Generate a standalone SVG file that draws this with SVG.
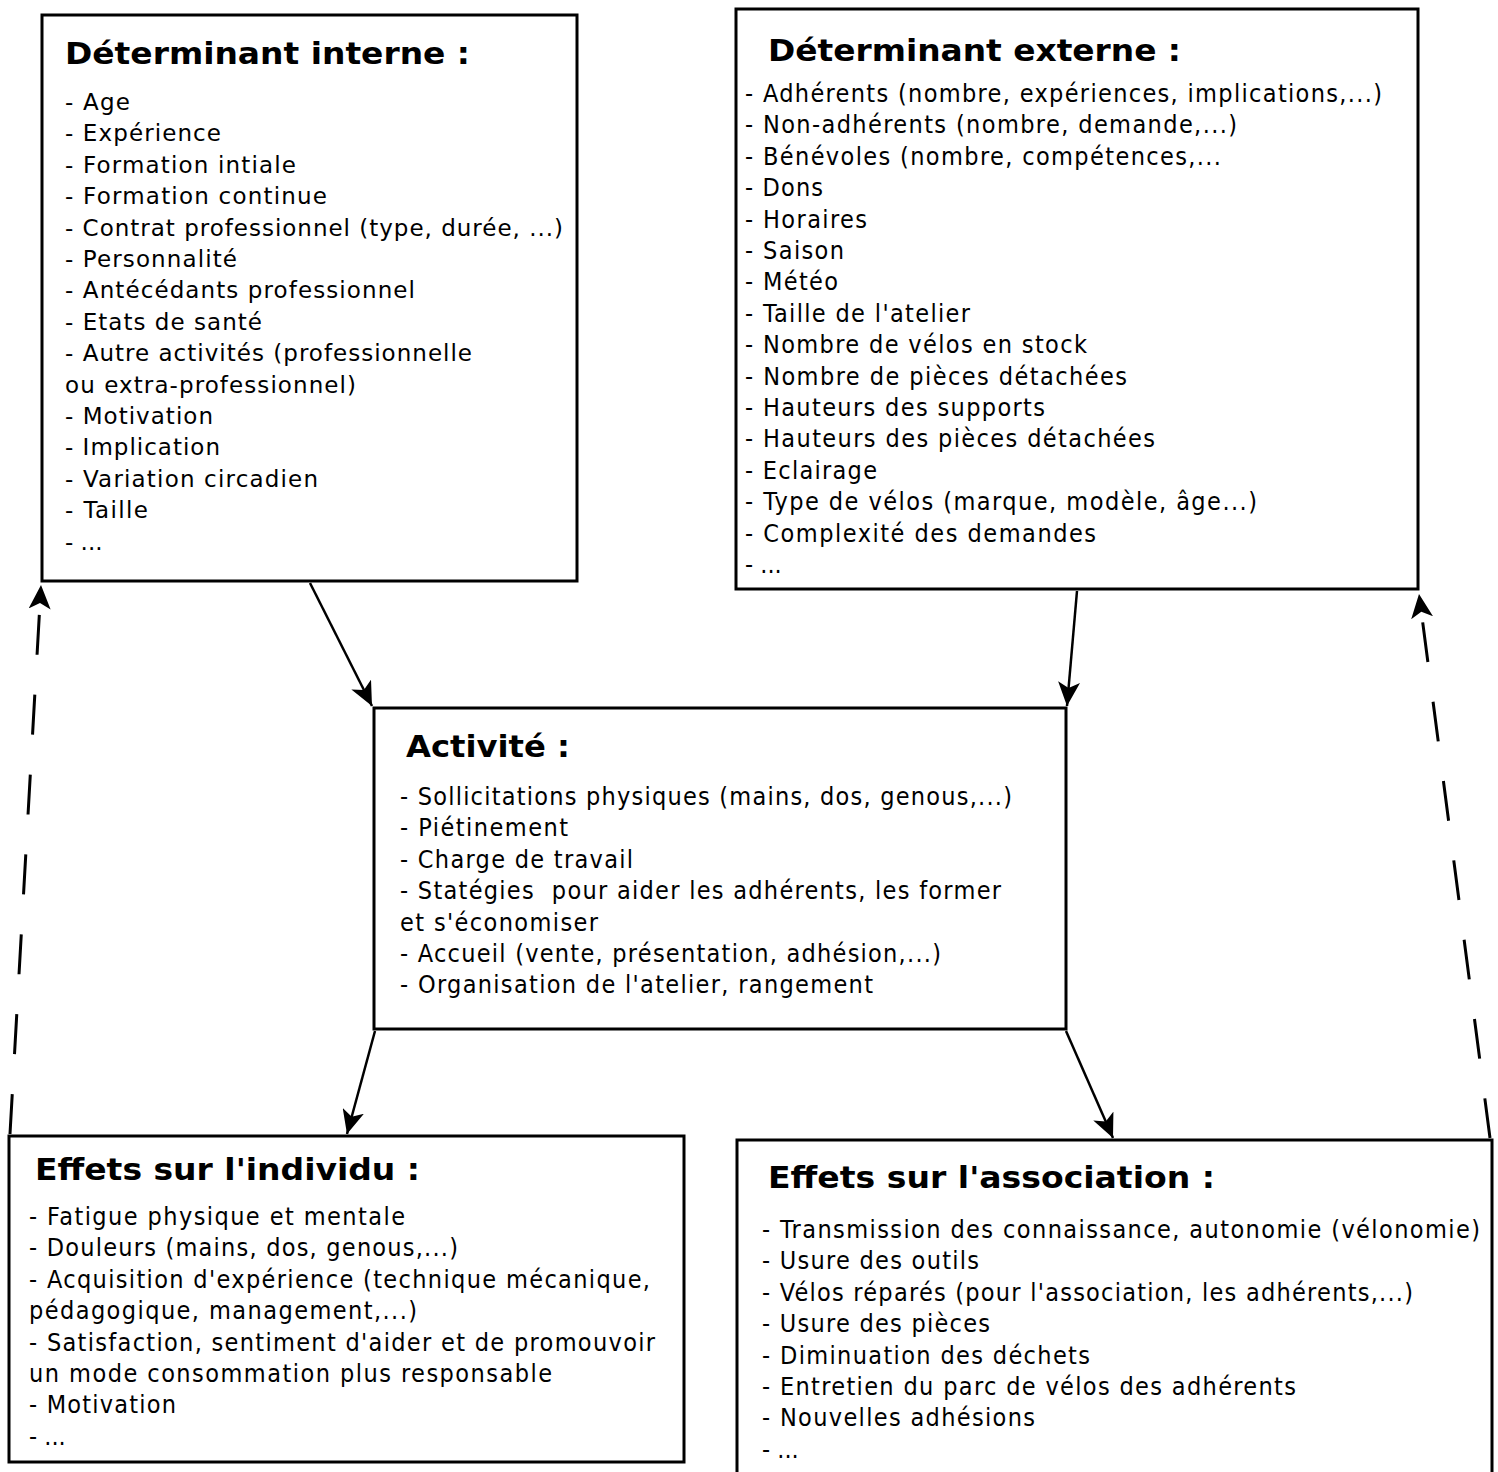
<svg xmlns="http://www.w3.org/2000/svg" width="1498" height="1472" viewBox="0 0 1498 1472">
<style>
.box{fill:#fff;stroke:#000;stroke-width:3}
.t{font-family:"DejaVu Sans","Verdana",sans-serif;font-weight:bold;font-size:30px;fill:#000}
.b{font-family:"DejaVu Sans Condensed","DejaVu Sans",sans-serif;font-size:25px;fill:#000}
.r{font-family:"DejaVu Sans","Verdana",sans-serif;font-size:23px;fill:#000}
.c{fill:none;stroke:#000;stroke-width:2.5}
.d{fill:none;stroke:#000;stroke-width:3;stroke-dasharray:40 40}
</style>
<defs>
<marker id="ah" markerUnits="userSpaceOnUse" markerWidth="26" markerHeight="22" refX="24" refY="11" orient="auto">
<path d="M0,0 L24,11 L0,22 L6,11 Z" fill="#000"/>
</marker>
</defs>
<rect width="1498" height="1472" fill="#fff"/>
<g id="connectors">
<line class="c" x1="310" y1="583" x2="372" y2="706" marker-end="url(#ah)"/>
<line class="c" x1="1077" y1="591" x2="1067" y2="706" marker-end="url(#ah)"/>
<line class="c" x1="375" y1="1031" x2="347" y2="1134" marker-end="url(#ah)"/>
<line class="c" x1="1066" y1="1031" x2="1113" y2="1138" marker-end="url(#ah)"/>
<line class="d" x1="10" y1="1134" x2="41" y2="585" marker-end="url(#ah)"/>
<line class="d" x1="1490" y1="1138" x2="1419" y2="594" marker-end="url(#ah)"/>
</g>
<g id="det-interne">
<rect class="box" x="42" y="15" width="535" height="566"/>
<text class="t" x="65" y="64" textLength="405" lengthAdjust="spacingAndGlyphs">Déterminant interne :</text>
<text class="r" x="65" y="110" textLength="65">- Age</text>
<text class="r" x="65" y="141.4" textLength="156">- Expérience</text>
<text class="r" x="65" y="172.8" textLength="231">- Formation intiale</text>
<text class="r" x="65" y="204.2" textLength="262">- Formation continue</text>
<text class="r" x="65" y="235.6" textLength="498">- Contrat professionnel (type, durée, ...)</text>
<text class="r" x="65" y="267" textLength="172">- Personnalité</text>
<text class="r" x="65" y="298.4" textLength="350">- Antécédants professionnel</text>
<text class="r" x="65" y="329.8" textLength="197">- Etats de santé</text>
<text class="r" x="65" y="361.2" textLength="407">- Autre activités (professionnelle</text>
<text class="r" x="65" y="392.6" textLength="291">ou extra-professionnel)</text>
<text class="r" x="65" y="424" textLength="148">- Motivation</text>
<text class="r" x="65" y="455.4" textLength="155">- Implication</text>
<text class="r" x="65" y="486.8" textLength="253">- Variation circadien</text>
<text class="r" x="65" y="518.2" textLength="83">- Taille</text>
<text class="r" x="65" y="549.6">- ...</text>
</g>
<g id="det-externe">
<rect class="box" x="736" y="9" width="682" height="580"/>
<text class="t" x="768" y="61" textLength="413" lengthAdjust="spacingAndGlyphs">Déterminant externe :</text>
<text class="b" x="745" y="102" textLength="637">- Adhérents (nombre, expériences, implications,...)</text>
<text class="b" x="745" y="133.4" textLength="492">- Non-adhérents (nombre, demande,...)</text>
<text class="b" x="745" y="164.8" textLength="476">- Bénévoles (nombre, compétences,...</text>
<text class="b" x="745" y="196.2" textLength="78">- Dons</text>
<text class="b" x="745" y="227.6" textLength="122">- Horaires</text>
<text class="b" x="745" y="259" textLength="99">- Saison</text>
<text class="b" x="745" y="290.4" textLength="93">- Météo</text>
<text class="b" x="745" y="321.8" textLength="225">- Taille de l'atelier</text>
<text class="b" x="745" y="353.2" textLength="342">- Nombre de vélos en stock</text>
<text class="b" x="745" y="384.6" textLength="382">- Nombre de pièces détachées</text>
<text class="b" x="745" y="416" textLength="300">- Hauteurs des supports</text>
<text class="b" x="745" y="447.4" textLength="410">- Hauteurs des pièces détachées</text>
<text class="b" x="745" y="478.8" textLength="132">- Eclairage</text>
<text class="b" x="745" y="510.2" textLength="512">- Type de vélos (marque, modèle, âge...)</text>
<text class="b" x="745" y="541.6" textLength="351">- Complexité des demandes</text>
<text class="b" x="745" y="573">- ...</text>
</g>
<g id="activite">
<rect class="box" x="374" y="708" width="692" height="321"/>
<text class="t" x="406" y="757" textLength="164" lengthAdjust="spacingAndGlyphs">Activité :</text>
<text class="b" x="400" y="805" textLength="612">- Sollicitations physiques (mains, dos, genous,...)</text>
<text class="b" x="400" y="836.4" textLength="168">- Piétinement</text>
<text class="b" x="400" y="867.8" textLength="233">- Charge de travail</text>
<text class="b" x="400" y="899.2" textLength="601" xml:space="preserve">- Statégies  pour aider les adhérents, les former</text>
<text class="b" x="400" y="930.6" textLength="198">et s'économiser</text>
<text class="b" x="400" y="962" textLength="541">- Accueil (vente, présentation, adhésion,...)</text>
<text class="b" x="400" y="993.4" textLength="473">- Organisation de l'atelier, rangement</text>
</g>
<g id="effets-individu">
<rect class="box" x="9" y="1136" width="675" height="326"/>
<text class="t" x="35" y="1180" textLength="385" lengthAdjust="spacingAndGlyphs">Effets sur l'individu :</text>
<text class="b" x="29" y="1225" textLength="376">- Fatigue physique et mentale</text>
<text class="b" x="29" y="1256.4" textLength="429">- Douleurs (mains, dos, genous,...)</text>
<text class="b" x="29" y="1287.8" textLength="621">- Acquisition d'expérience (technique mécanique,</text>
<text class="b" x="29" y="1319.2" textLength="388">pédagogique, management,...)</text>
<text class="b" x="29" y="1350.6" textLength="626">- Satisfaction, sentiment d'aider et de promouvoir</text>
<text class="b" x="29" y="1382" textLength="523">un mode consommation plus responsable</text>
<text class="b" x="29" y="1413.4" textLength="147">- Motivation</text>
<text class="b" x="29" y="1444.8">- ...</text>
</g>
<g id="effets-association">
<rect class="box" x="737" y="1140" width="755" height="340"/>
<text class="t" x="768" y="1188" textLength="447" lengthAdjust="spacingAndGlyphs">Effets sur l'association :</text>
<text class="b" x="762" y="1238" textLength="718">- Transmission des connaissance, autonomie (vélonomie)</text>
<text class="b" x="762" y="1269.4" textLength="217">- Usure des outils</text>
<text class="b" x="762" y="1300.8" textLength="651">- Vélos réparés (pour l'association, les adhérents,...)</text>
<text class="b" x="762" y="1332.2" textLength="228">- Usure des pièces</text>
<text class="b" x="762" y="1363.6" textLength="328">- Diminuation des déchets</text>
<text class="b" x="762" y="1395" textLength="534">- Entretien du parc de vélos des adhérents</text>
<text class="b" x="762" y="1426.4" textLength="273">- Nouvelles adhésions</text>
<text class="b" x="762" y="1457.8">- ...</text>
</g>
</svg>
